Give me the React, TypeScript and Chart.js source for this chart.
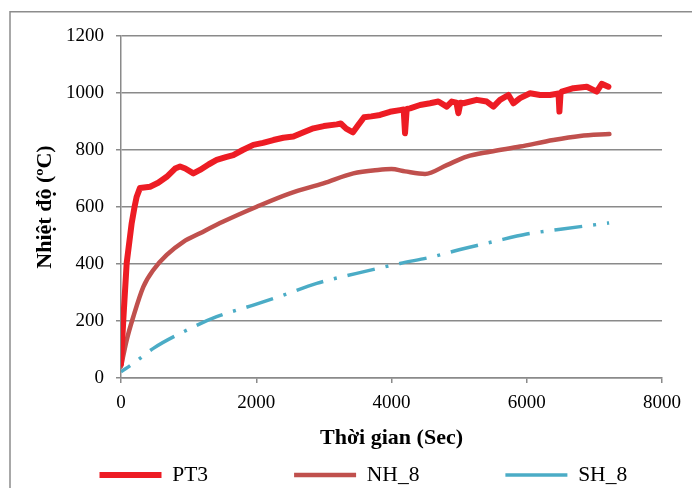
import { useEffect, useRef } from 'react';
import { Chart, registerables } from 'chart.js';

Chart.register(...registerables);

const FONT = '"Liberation Serif", "Times New Roman", "DejaVu Serif", serif';

// Axis settings
const xMin = 0;
const xMax = 8000;
const xStep = 2000;
const yMin = 0;
const yMax = 1200;
const yStep = 200;

const xTitle = 'Thời gian (Sec)';
const yTitle = 'Nhiệt độ (ºC)';

// PT3
const pt3Time = [0, 34, 84, 158, 200, 232, 281, 430, 550, 676, 800, 873, 950, 1070, 1168, 1300, 1415, 1550, 1661, 1800, 1957, 2100, 2253, 2400, 2549, 2700, 2845, 3000, 3190, 3250, 3330, 3430, 3500, 3594, 3700, 3831, 3978, 4126, 4180, 4200, 4225, 4274, 4422, 4570, 4693, 4817, 4891, 4960, 4989, 5020, 5063, 5260, 5408, 5507, 5605, 5729, 5802, 5901, 6049, 6197, 6345, 6470, 6483, 6500, 6518, 6690, 6888, 7035, 7109, 7207];
const pt3Temp = [50, 204, 403, 543, 600, 636, 667, 671, 685, 706, 735, 742, 735, 718, 730, 750, 765, 775, 782, 800, 818, 825, 835, 843, 847, 862, 876, 884, 890, 893, 875, 862, 885, 915, 918, 923, 934, 940, 942, 859, 944, 946, 958, 964, 970, 952, 970, 966, 929, 966, 964, 976, 970, 952, 976, 993, 964, 982, 999, 993, 993, 998, 935, 1000, 1005, 1017, 1022, 1005, 1032, 1022];

// NH_8
const nhTime = [0, 84, 182, 330, 478, 676, 922, 1168, 1513, 2007, 2500, 2993, 3436, 3800, 4000, 4200, 4496, 4817, 5113, 5457, 5901, 6394, 6789, 7222];
const nhTemp = [40, 133, 215, 320, 379, 432, 478, 508, 549, 601, 648, 683, 718, 730, 733, 725, 716, 747, 777, 794, 812, 835, 849, 856];

// SH_8
const shTime = [0, 182, 478, 922, 1415, 1957, 2401, 2894, 3485, 4126, 4600, 5000, 5500, 6000, 6500, 7218];
const shTemp = [22, 51, 104, 162, 215, 256, 291, 332, 367, 402, 425, 450, 478, 505, 522, 544];

const seriesNames = ['PT3', 'NH_8', 'SH_8'];

const LEG_X = 99.5;
const LEG_Y = 475;
const LEG_FONT = 21.5;
const LEG_PAD = 86;

const zip = (t: number[], v: number[]) => t.map((x, i) => ({ x, y: v[i] }));

const frame = {
  id: 'frame',
  beforeDraw(chart: any) {
    const ctx = chart.ctx;
    ctx.save();
    ctx.fillStyle = '#ffffff';
    ctx.fillRect(0, 0, chart.width, chart.height);
    ctx.strokeStyle = '#8c8c8c';
    ctx.lineWidth = 1.5;
    ctx.strokeRect(10, 11.75, 1000, 1000);
    ctx.restore();
  },
};

const legendPlace = {
  id: 'legendPlace',
  afterLayout(chart: any) {
    const lg = chart.legend;
    if (!lg) return;
    lg.maxWidth = 3000;
    lg.fit();
    const lw = lg.lineWidths[0];
    lg.left = 0;
    lg.right = 2 * LEG_X - LEG_PAD + lw;
    lg.width = lg.right - lg.left;
    lg.top = LEG_Y - LEG_PAD - LEG_FONT / 2;
    lg.bottom = chart.height;
    lg.height = lg.bottom - lg.top;
  },
};

const plainNum = (v: any) => String(v);

export default function App() {
  const ref = useRef<HTMLCanvasElement | null>(null);

  useEffect(() => {
    if (!ref.current) return;
    const chart = new Chart(ref.current, {
      type: 'line',
      data: {
        datasets: [
          {
            label: seriesNames[0],
            data: zip(pt3Time, pt3Temp),
            borderColor: '#ED1C24',
            backgroundColor: '#ED1C24',
            borderWidth: 6,
            borderCapStyle: 'round',
            borderJoinStyle: 'round',
            pointRadius: 0,
            tension: 0,
          },
          {
            label: seriesNames[1],
            data: zip(nhTime, nhTemp),
            borderColor: '#C0504D',
            backgroundColor: '#C0504D',
            borderWidth: 4.5,
            borderCapStyle: 'round',
            borderJoinStyle: 'round',
            pointRadius: 0,
            cubicInterpolationMode: 'monotone',
          },
          {
            label: seriesNames[2],
            data: zip(shTime, shTemp),
            borderColor: '#4BACC6',
            backgroundColor: '#4BACC6',
            borderWidth: 3.5,
            borderDash: [28, 11, 3, 11],
            borderDashOffset: 17,
            pointRadius: 0,
            cubicInterpolationMode: 'monotone',
          },
        ],
      } as any,
      options: {
        responsive: false,
        animation: false,
        devicePixelRatio: 1,
        layout: { padding: { top: 36, left: 0, right: 0, bottom: 0 } },
        plugins: {
          tooltip: { enabled: false },
          legend: {
            position: 'bottom',
            maxHeight: 39,
            labels: {
              usePointStyle: true,
              pointStyle: 'line',
              pointStyleWidth: 62,
              boxHeight: 10,
              padding: LEG_PAD,
              color: '#000',
              font: { family: FONT, size: LEG_FONT },
            },
          } as any,
        },
        scales: {
          x: {
            type: 'linear',
            min: xMin,
            max: xMax,
            afterFit(s: any) { s.height = 71; },
            ticks: {
              stepSize: xStep,
              padding: 9,
              color: '#000',
              font: { family: FONT, size: 19 },
              callback: plainNum,
            },
            grid: {
              drawOnChartArea: false,
              drawTicks: true,
              tickLength: 5,
              color: '#8a8a8a',
              lineWidth: 1.5,
            },
            border: { color: '#8a8a8a', width: 1.5 },
            title: {
              display: true,
              text: xTitle,
              color: '#000',
              font: { family: FONT, size: 22, weight: 'bold', lineHeight: 1 },
              padding: { top: 0, bottom: 0 },
            },
          },
          y: {
            type: 'linear',
            min: yMin,
            max: yMax,
            afterFit(s: any) { s.width = 121; },
            ticks: {
              stepSize: yStep,
              padding: 12,
              color: '#000',
              font: { family: FONT, size: 19 },
              callback: plainNum,
            },
            grid: {
              drawOnChartArea: true,
              drawTicks: true,
              tickLength: 5,
              color: '#8a8a8a',
              lineWidth: 1.5,
            },
            border: { color: '#8a8a8a', width: 1.5 },
            title: {
              display: true,
              text: yTitle,
              color: '#000',
              font: { family: FONT, size: 22, weight: 'bold', lineHeight: 1 },
              padding: { top: 34, bottom: 0 },
            },
          },
          yRight: {
            type: 'linear',
            position: 'right',
            display: true,
            afterFit(s: any) { s.width = 30; },
            grid: { display: false },
            ticks: { display: false },
            border: { display: false },
          },
        },
      } as any,
      plugins: [frame, legendPlace],
    });
    return () => chart.destroy();
  }, []);

  return (
    <div style={{ position: 'fixed', left: 0, top: 0, width: 692, height: 488 }}>
      <canvas ref={ref} width={692} height={488} />
    </div>
  );
}
